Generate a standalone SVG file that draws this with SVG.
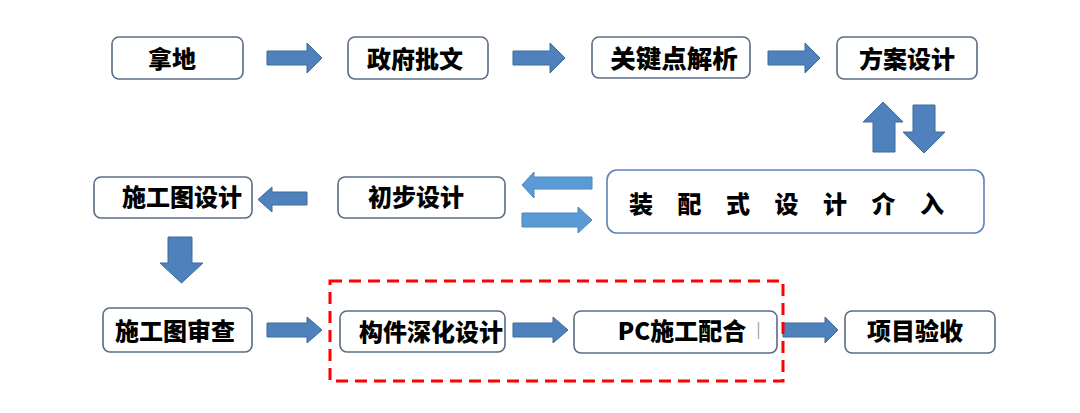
<svg xmlns="http://www.w3.org/2000/svg" width="1080" height="413" viewBox="0 0 1080 413">
<style>
.box{fill:#fff;stroke:#5b6b84;stroke-width:1.6}
.box2{fill:#fff;stroke:#5a84b8;stroke-width:1.6}
.t{font-family:"Noto Sans CJK SC","Liberation Sans",sans-serif;font-weight:900;font-size:24px;fill:#000;text-anchor:middle;dominant-baseline:central}
.arr{fill:#4f81bd;stroke:#3d6a9c;stroke-width:1}
.arrl{fill:#5b9bd5;stroke:#4a86be;stroke-width:1}
</style>
<rect width="1080" height="413" fill="#fff"/>
<g id="connectors">
<path class="arr" d="M267,51 H307 V43 L322,58 L307,73 V65 H267 Z"/>
<path class="arr" d="M513,51 H550 V43 L565,58 L550,73 V65 H513 Z"/>
<path class="arr" d="M768,51 H805 V43 L820,58 L805,73 V65 H768 Z"/>
<path class="arr" d="M873,152 V122 H863 L883,102 L903,122 H895 V152 Z"/>
<path class="arr" d="M913,105 V132 H903 L924,153 L945,132 H935 V105 Z"/>
<path class="arrl" d="M592,177 H534 V172 L522,185 L534,198 V189 H592 Z"/>
<path class="arrl" d="M522,213 H578 V207 L592,220 L578,233 V227 H522 Z"/>
<path class="arr" d="M307,192 H272 V187 L258,199.5 L272,212 V205 H307 Z"/>
<path class="arr" d="M168,237 V263 H160 L181.5,283 L203,263 H192 V237 Z"/>
<path class="arr" d="M267,323 H307 V317 L322,330 L307,343 V337 H267 Z"/>
<path class="arr" d="M513,323 H553 V317 L568,330 L553,343 V337 H513 Z"/>
<path class="arr" d="M783,323 H825 V317 L838,330 L825,343 V337 H783 Z"/>
</g>
<g id="group-dashed">
<rect x="330" y="281" width="453" height="100" fill="none" stroke="#ff0000" stroke-width="3" stroke-dasharray="12 7"/>
</g>
<g id="n1"><rect class="box" x="112" y="37" width="131" height="42" rx="7"/><text class="t" x="172" y="57">拿地</text></g>
<g id="n2"><rect class="box" x="348" y="37" width="140" height="42" rx="7"/><text class="t" x="415" y="57">政府批文</text></g>
<g id="n3"><rect class="box" x="592" y="37" width="158" height="41" rx="7"/><text class="t" x="674" y="56" style="font-size:25.5px">关键点解析</text></g>
<g id="n4"><rect class="box" x="837" y="37" width="140" height="42" rx="7"/><text class="t" x="907" y="57">方案设计</text></g>
<g id="n5"><rect class="box2" x="607" y="170" width="377" height="63" rx="10"/><text class="t" y="202"><tspan x="641">装</tspan><tspan x="689.5">配</tspan><tspan x="738">式</tspan><tspan x="786.5">设</tspan><tspan x="835">计</tspan><tspan x="883.5">介</tspan><tspan x="932">入</tspan></text></g>
<g id="n6"><rect class="box" x="338" y="177" width="167" height="41" rx="7"/><text class="t" x="416" y="195">初步设计</text></g>
<g id="n7"><rect class="box" x="94" y="177" width="158" height="41" rx="7"/><text class="t" x="182" y="195">施工图设计</text></g>
<g id="n8"><rect class="box" x="103" y="308" width="149" height="44" rx="7"/><text class="t" x="175" y="329">施工图审查</text></g>
<g id="n9"><rect class="box" x="340" y="311" width="165" height="41" rx="7"/><text class="t" x="431" y="330">构件深化设计</text></g>
<g id="n10"><rect class="box" x="574" y="311" width="203" height="42" rx="7"/><text class="t" x="682" y="329">PC施工配合</text><line x1="758.5" y1="322" x2="758.5" y2="339" stroke="#b0b0b0" stroke-width="1.5"/></g>
<g id="n11"><rect class="box" x="845" y="311" width="150" height="42" rx="7"/><text class="t" x="915" y="329">项目验收</text></g>
</svg>
